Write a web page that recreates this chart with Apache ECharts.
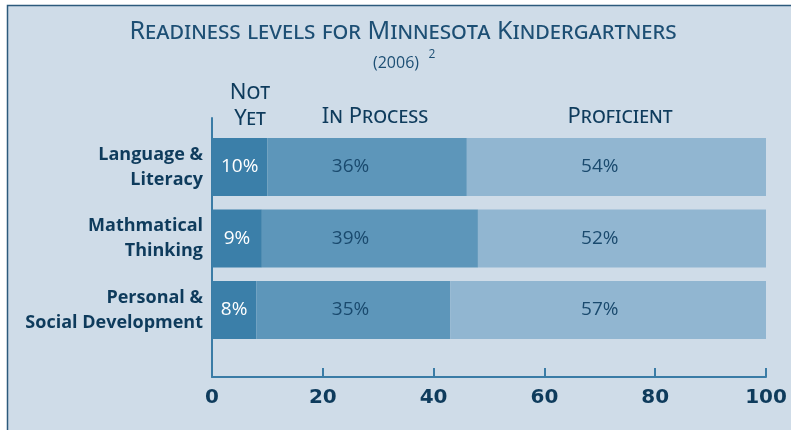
<!DOCTYPE html>
<html>
<head>
<meta charset="utf-8">
<script src="https://cdn.jsdelivr.net/npm/echarts@6/dist/echarts.min.js"></script>
<style>
html,body{margin:0;padding:0;background:#ffffff;}
#chart{width:791px;height:430px;}
</style>
</head>
<body>
<div id="chart"></div>
<script>
var categories = ['Language &\nLiteracy', 'Mathmatical\nThinking', 'Personal &\nSocial Development'];
var notYet = [10, 9, 8];
var inProcess = [36, 39, 35];
var proficient = [54, 52, 57];
var xTicks = [0, 20, 40, 60, 80, 100];
var seriesNames = ['Not\nYet', 'In Process', 'Proficient'];

var BG = '#cfdce8';
var DARK = '#0e3b5c';
var AXIS = '#3a7ca6';
var TITLE = '#1d4f74';
var FONT = "'Open Sans', sans-serif";
var SC = "'Noto Sans', 'Open Sans', sans-serif";

var chart = echarts.init(document.getElementById('chart'));

function labelStyle(color) {
  return { show: true, position: 'inside', color: color, fontSize: 19, fontFamily: FONT, formatter: '{c}%' };
}

var option = {
  backgroundColor: '#ffffff',
  animation: false,
  graphic: [
    { type: 'rect', z: -10, shape: { x: 7.5, y: 5.5, width: 800, height: 440 },
      style: { fill: BG, stroke: '#2c5a7c', lineWidth: 1.5 } },
    { type: 'text', x: 403, y: 32, style: { text: 'Readiness levels for Minnesota Kindergartners',
      font: "small-caps 25px " + SC, fill: TITLE, textAlign: 'center', textVerticalAlign: 'middle' } },
    { type: 'text', x: 396, y: 63, style: { text: '(2006)',
      font: "16px " + FONT, fill: TITLE, textAlign: 'center', textVerticalAlign: 'middle' } },
    { type: 'text', x: 432, y: 55, style: { text: '2',
      font: "12px " + FONT, fill: TITLE, textAlign: 'center', textVerticalAlign: 'middle' } },
    { type: 'text', x: 250, y: 106, style: { text: seriesNames[0], lineHeight: 26,
      font: "small-caps 22px " + SC, fill: DARK, textAlign: 'center', textVerticalAlign: 'middle' } },
    { type: 'text', x: 375, y: 117, style: { text: seriesNames[1],
      font: "small-caps 22px " + SC, fill: DARK, textAlign: 'center', textVerticalAlign: 'middle' } },
    { type: 'text', x: 620, y: 117, style: { text: seriesNames[2],
      font: "small-caps 22px " + SC, fill: DARK, textAlign: 'center', textVerticalAlign: 'middle' } }
  ],
  grid: [
    { left: 212, right: 25, top: 131.25, bottom: 84.25 },
    { left: 212, right: 25, top: 118, bottom: 53 }
  ],
  xAxis: [
    { gridIndex: 0, type: 'value', min: 0, max: 100, show: false },
    { gridIndex: 1, type: 'value', min: 0, max: 100, interval: 20,
      axisLine: { show: true, lineStyle: { color: AXIS, width: 2 } },
      axisTick: { show: true, inside: true, length: 9, lineStyle: { color: AXIS, width: 2 } },
      splitLine: { show: false },
      axisLabel: { margin: 11, color: DARK, fontSize: 20, fontWeight: 'bold', fontFamily: "'DejaVu Sans', sans-serif",
        formatter: function (v) { return xTicks.indexOf(v) >= 0 ? String(v) : ''; } }
    }
  ],
  yAxis: [
    { gridIndex: 0, type: 'category', inverse: true, data: categories,
      axisLine: { show: false }, axisTick: { show: false },
      axisLabel: { margin: 9, color: DARK, fontSize: 18, fontWeight: 'bold', lineHeight: 25,
        fontFamily: FONT, align: 'right' } },
    { gridIndex: 1, type: 'value', min: 0, max: 1,
      axisLine: { show: true, lineStyle: { color: AXIS, width: 2 } },
      axisTick: { show: false }, axisLabel: { show: false }, splitLine: { show: false } }
  ],
  series: [
    { name: seriesNames[0], type: 'bar', stack: 'total', data: notYet, barWidth: 58,
      itemStyle: { color: '#3b7fa9' }, label: labelStyle('#ffffff') },
    { name: seriesNames[1], type: 'bar', stack: 'total', data: inProcess, barWidth: 58,
      itemStyle: { color: '#5d96ba' }, label: labelStyle('#1a4a6e') },
    { name: seriesNames[2], type: 'bar', stack: 'total', data: proficient, barWidth: 58,
      itemStyle: { color: '#91b6d1' }, label: labelStyle('#1a4a6e') }
  ]
};
chart.setOption(option);

// In the reference, the labels of the 2nd and 3rd segments sit in a fixed column
// (around x = 25 and x = 70 on the value scale); offset each label to that column.
var labelColumns = [null, 25, 70];
var stacks = [notYet, inProcess, proficient];
var update = [];
for (var s = 0; s < stacks.length; s++) {
  if (labelColumns[s] === null) { update.push({}); continue; }
  var items = stacks[s].map(function (v, i) {
    var start = 0;
    for (var k = 0; k < s; k++) start += stacks[k][i];
    var center = chart.convertToPixel({ xAxisIndex: 0 }, start + v / 2);
    var target = chart.convertToPixel({ xAxisIndex: 0 }, labelColumns[s]);
    return { value: v, label: { offset: [target - center, 0] } };
  });
  update.push({ data: items });
}
chart.setOption({ series: update });
</script>
</body>
</html>
